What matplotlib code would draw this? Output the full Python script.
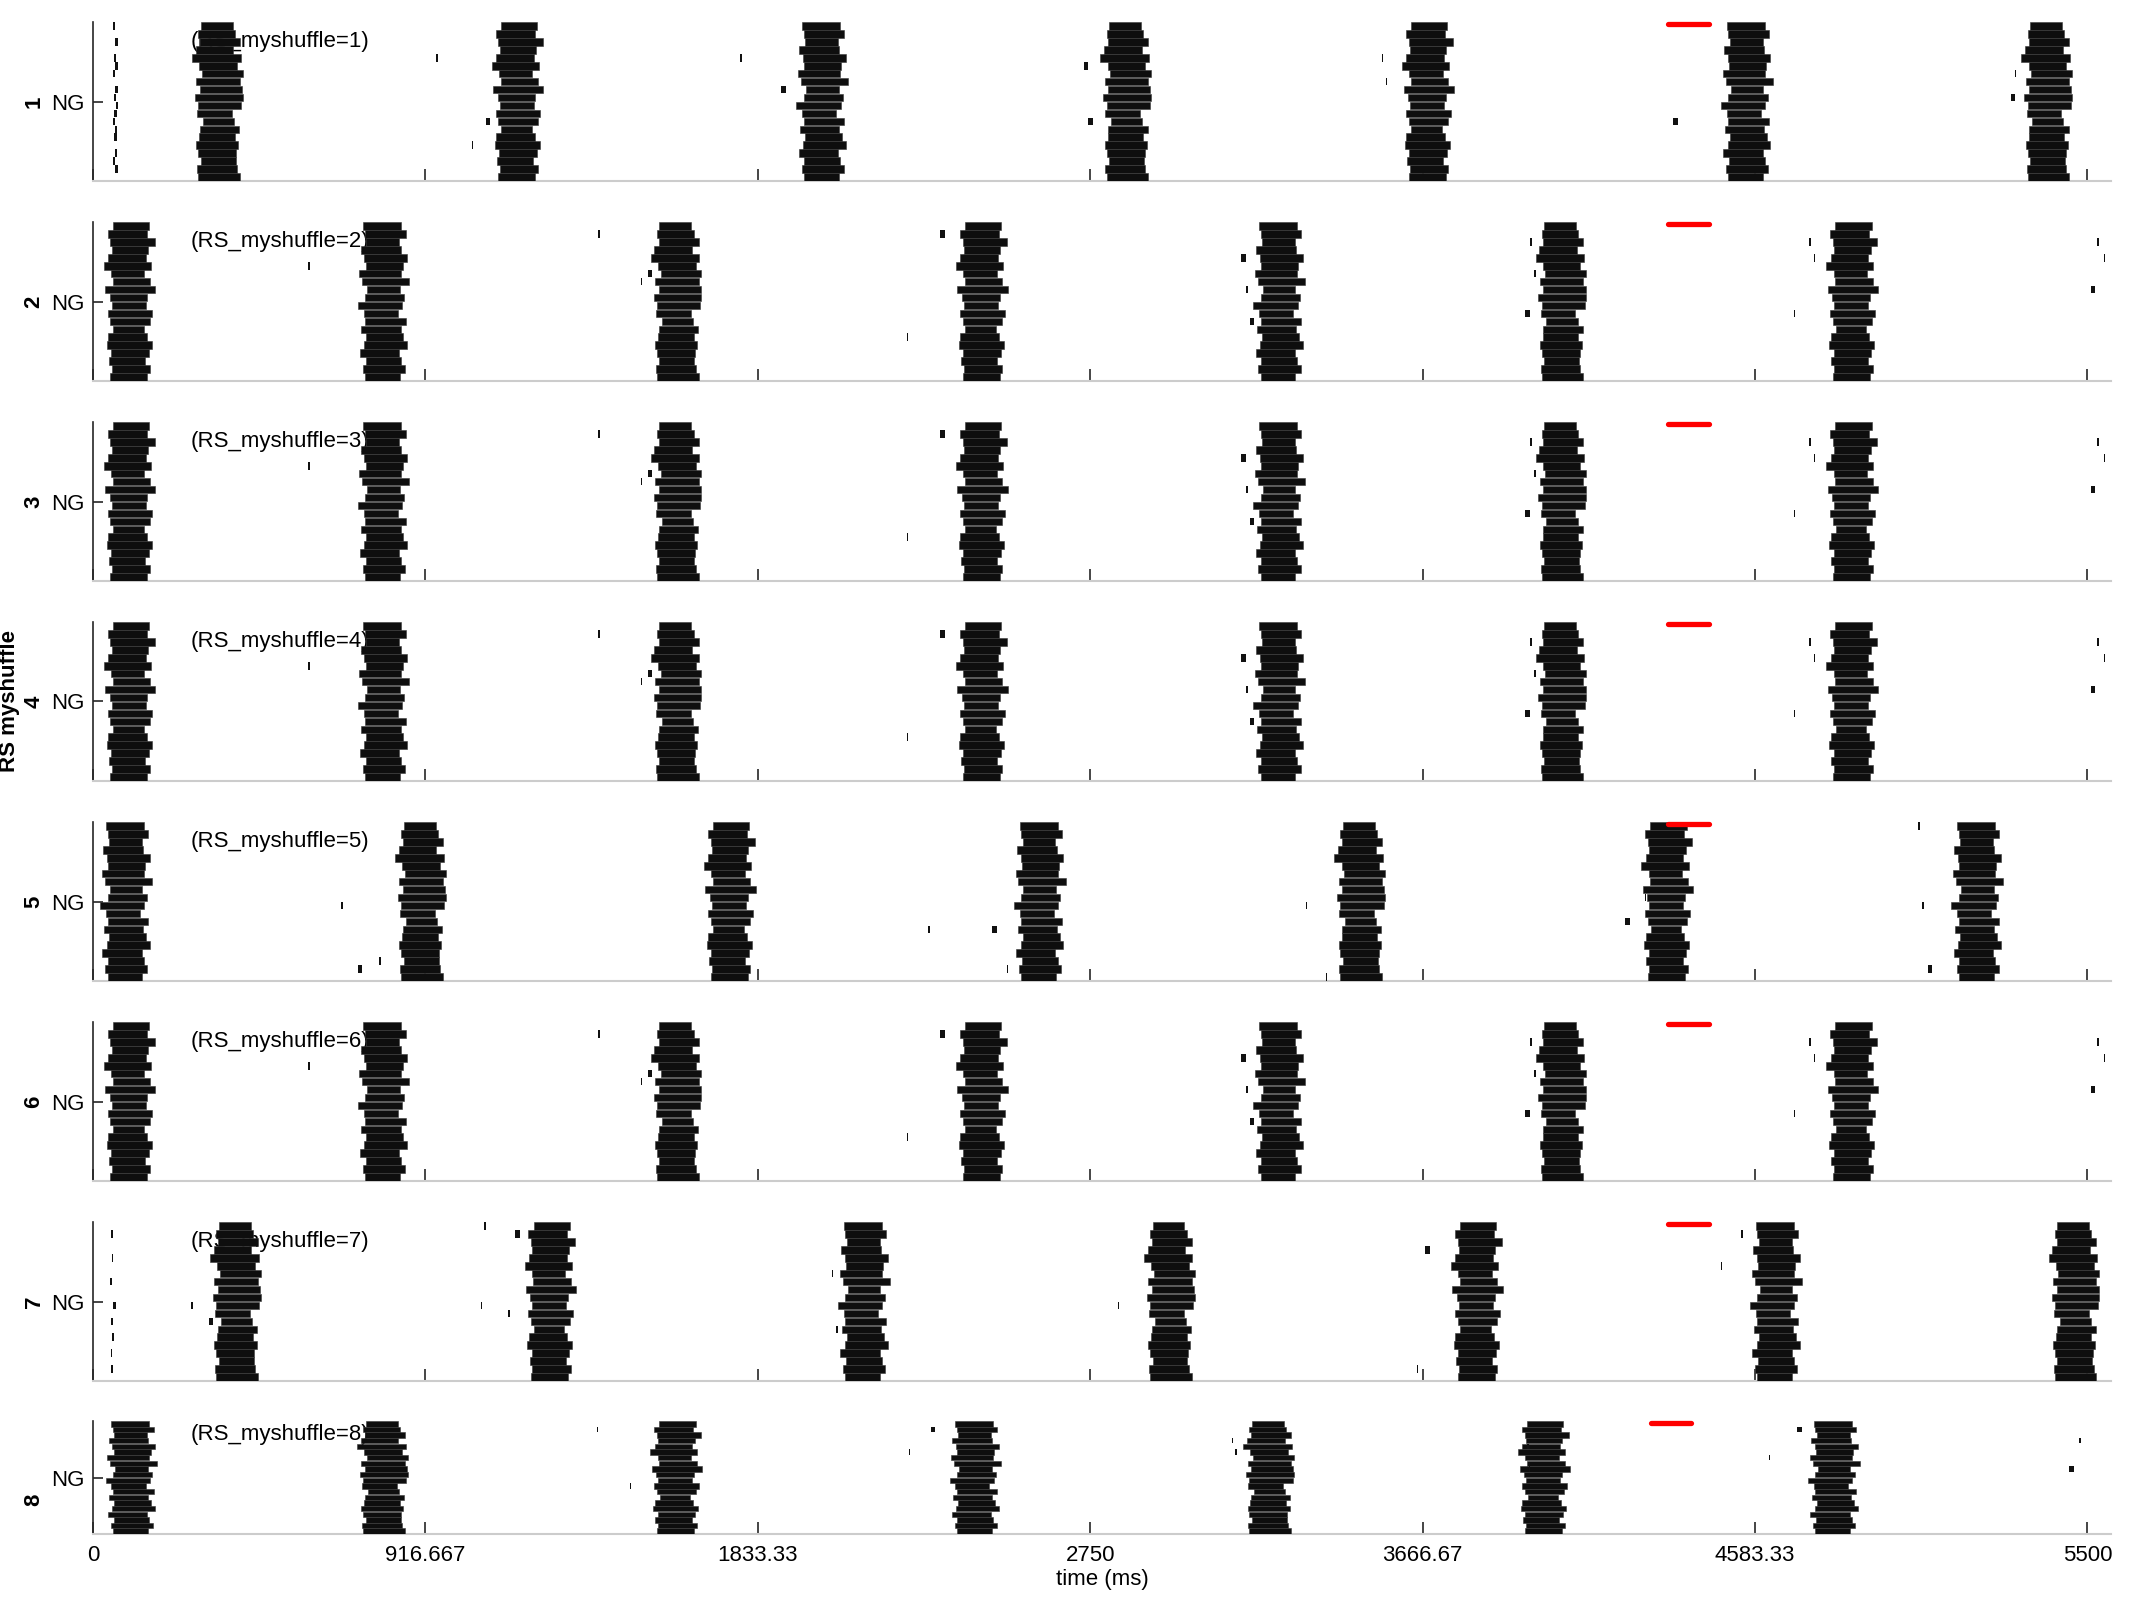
import matplotlib
matplotlib.use("Agg")
import matplotlib.pyplot as plt
import matplotlib.transforms as mtransforms

plt.rcParams['font.family'] = ['Liberation Sans', 'DejaVu Sans']

# ---------------- data ----------------
n_rows = 20
panel_ids = [1, 2, 3, 4, 5, 6, 7, 8]
xticks = [0, 916.667, 1833.33, 2750, 3666.67, 4583.33, 5500]
xtick_labels = ['0', '916.667', '1833.33', '2750', '3666.67', '4583.33', '5500']

# burst centres (ms) per panel
burst_p1 = [345, 1170, 2010, 2850, 3680, 4560, 5390]
burst_p2 = [100, 800, 1610, 2450, 3270, 4050, 4850]
burst_p5 = [90, 905, 1755, 2610, 3495, 4340, 5195]
burst_p7 = [395, 1260, 2125, 2970, 3815, 4640, 5465]
burst_p8 = [105, 800, 1607, 2432, 3244, 4000, 4800]
bursts = [burst_p1, burst_p2, burst_p2, burst_p2, burst_p5, burst_p2, burst_p7, burst_p8]

# per-row burst extents relative to burst centre (ms), three row profiles
prof0_left = [-48, -55, -50, -62, -72, -52, -45, -60, -50, -64, -55, -58, -42, -50, -52, -60, -55, -48, -58, -55]
prof0_right = [40, 46, 60, 42, 62, 52, 68, 60, 66, 68, 64, 38, 44, 58, 46, 56, 50, 48, 52, 60]
prof1_left = [-45, -60, -52, -48, -58, -70, -50, -46, -66, -54, -48, -60, -52, -44, -58, -62, -50, -56, -48, -52]
prof1_right = [55, 48, 70, 52, 46, 60, 42, 58, 72, 50, 45, 64, 56, 40, 48, 62, 54, 44, 58, 50]
prof2_left = [-55, -50, -46, -62, -52, -48, -66, -58, -44, -50, -70, -54, -50, -60, -46, -52, -64, -48, -56, -50]
prof2_right = [50, 62, 44, 48, 66, 54, 50, 72, 46, 58, 52, 40, 62, 48, 56, 66, 44, 50, 60, 46]
profiles_left = [prof0_left, prof1_left, prof2_left]
profiles_right = [prof0_right, prof1_right, prof2_right]
profile_shift = [0, 1, 1, 1, 2, 1, 0, 2]

# isolated spikes: time (ms), row, width (ms)
spk1_t = [55, 60, 58, 62, 56, 60, 57, 63, 59, 55, 61, 58, 60, 56, 62, 947, 1045, 1083, 1785, 1898, 2732, 2745, 3554, 3565, 4358, 5289, 5300]
spk1_r = [1, 3, 5, 6, 7, 9, 10, 11, 12, 13, 14, 15, 17, 18, 19, 5, 16, 13, 5, 9, 6, 13, 5, 8, 13, 10, 7]
spk1_w = [5, 8, 6, 8, 5, 8, 6, 5, 8, 6, 5, 8, 6, 5, 8, 4, 4, 12, 4, 12, 12, 12, 4, 4, 12, 12, 4]
spk2_t = [594, 1394, 1511, 1530, 2244, 2337, 3167, 3180, 3190, 3964, 3950, 3975, 4733, 4745, 4690, 5527, 5510, 5545]
spk2_r = [6, 2, 8, 7, 15, 2, 5, 9, 13, 3, 12, 7, 3, 5, 12, 3, 9, 5]
spk2_w = [4, 4, 4, 12, 4, 12, 12, 4, 12, 4, 12, 4, 4, 4, 4, 4, 12, 4]
spk5_t = [685, 730, 790, 2303, 2480, 2520, 3344, 3400, 4226, 4280, 5034, 5045, 5060]
spk5_r = [11, 19, 18, 14, 14, 19, 11, 20, 13, 10, 1, 11, 19]
spk5_w = [4, 12, 4, 4, 12, 4, 4, 4, 12, 4, 4, 4, 12]
spk7_t = [50, 52, 48, 55, 50, 53, 49, 51, 271, 320, 1079, 1165, 1145, 1070, 2037, 2050, 2826, 3674, 3650, 4489, 4545]
spk7_r = [2, 5, 8, 11, 13, 15, 17, 19, 11, 13, 1, 2, 12, 11, 7, 14, 11, 4, 19, 6, 2]
spk7_w = [4, 4, 4, 8, 4, 4, 4, 4, 4, 12, 4, 12, 4, 4, 4, 4, 4, 12, 4, 4, 4]
spk8_t = [1390, 1480, 2311, 2250, 3141, 3150, 3955, 3960, 4621, 4700, 5477, 5450]
spk8_r = [2, 12, 2, 6, 4, 6, 5, 9, 7, 2, 4, 9]
spk8_w = [4, 4, 12, 4, 4, 4, 4, 4, 4, 12, 4, 12]
spikes = [(spk1_t, spk1_r, spk1_w), (spk2_t, spk2_r, spk2_w), (spk2_t, spk2_r, spk2_w),
          (spk2_t, spk2_r, spk2_w), (spk5_t, spk5_r, spk5_w), (spk2_t, spk2_r, spk2_w),
          (spk7_t, spk7_r, spk7_w), (spk8_t, spk8_r, spk8_w)]

# red marker (ms)
red_start = [4343, 4343, 4343, 4343, 4343, 4343, 4343, 4296]
red_end = [4456, 4456, 4456, 4456, 4456, 4456, 4456, 4407]

# ---------------- figure ----------------
W, H = 2133, 1600
fig = plt.figure(figsize=(W / 100, H / 100), dpi=100)

left_px, right_px = 93, 2111
tops_px = [22, 222, 422, 622, 822, 1022, 1222, 1421]
heights_px = [159, 159, 159, 159, 159, 159, 159, 113]

for i, pid in enumerate(panel_ids):
    top = tops_px[i]
    h = heights_px[i]
    ax = fig.add_axes([left_px / W, 1 - (top + h) / H, (right_px - left_px) / W, h / H])
    rows = list(range(1, n_rows + 1))
    for j, c in enumerate(bursts[i]):
        k = (j + profile_shift[i]) % 3
        lefts = [c + v for v in profiles_left[k]]
        widths = [r - l for l, r in zip(profiles_left[k], profiles_right[k])]
        ax.barh(rows, widths, left=lefts, height=0.95, color='#0e0e0e',
                edgecolor='#3a3a3a', linewidth=0.4, zorder=3)
    st, sr, sw = spikes[i]
    ax.barh(sr, sw, left=st, height=0.95, color='#111111', zorder=3)
    ax.plot([red_start[i], red_end[i]], [0.8, 0.8], color='red', lw=3.8,
            solid_capstyle='round', zorder=4, clip_on=False)

    ax.set_xlim(0, 5565)
    ax.set_ylim(n_rows + 0.5, 0.5)
    ax.set_yticks([(n_rows + 1) / 2])
    ax.set_yticklabels(['NG'], fontsize=16)
    ax.set_xticks(xticks)
    if i == len(panel_ids) - 1:
        ax.set_xticklabels(xtick_labels, fontsize=16)
        ax.set_xlabel('time (ms)', fontsize=16, labelpad=2)
        lbl0 = ax.get_xticklabels()[0]
        lbl0.set_transform(lbl0.get_transform() +
                           mtransforms.ScaledTranslation(-0.17, 0, fig.dpi_scale_trans))
    else:
        ax.set_xticklabels([])
    ax.tick_params(axis='x', direction='in', length=9, width=1.2, color='#262626', pad=8)
    ax.tick_params(axis='y', direction='in', length=7, width=1.2, color='#262626', pad=6)
    for s in ['top', 'right']:
        ax.spines[s].set_visible(False)
    ax.spines['bottom'].set_color('#cccccc')
    ax.spines['bottom'].set_linewidth(1.5)
    ax.spines['left'].set_color('#262626')
    ax.spines['left'].set_linewidth(1.2)

    lab = 'RS myshuffle\n%d' % pid if pid == 4 else str(pid)
    ax.set_ylabel(lab, fontsize=16, fontweight='bold')
    ax.yaxis.set_label_coords(-0.024, 0.30 if pid == 8 else 0.5)

    ax.text(268, 0.12 * n_rows + 0.5, '(RS_myshuffle=%d)' % pid, fontsize=16,
            ha='left', va='center', zorder=2)

fig.savefig('out.png', dpi=100)
